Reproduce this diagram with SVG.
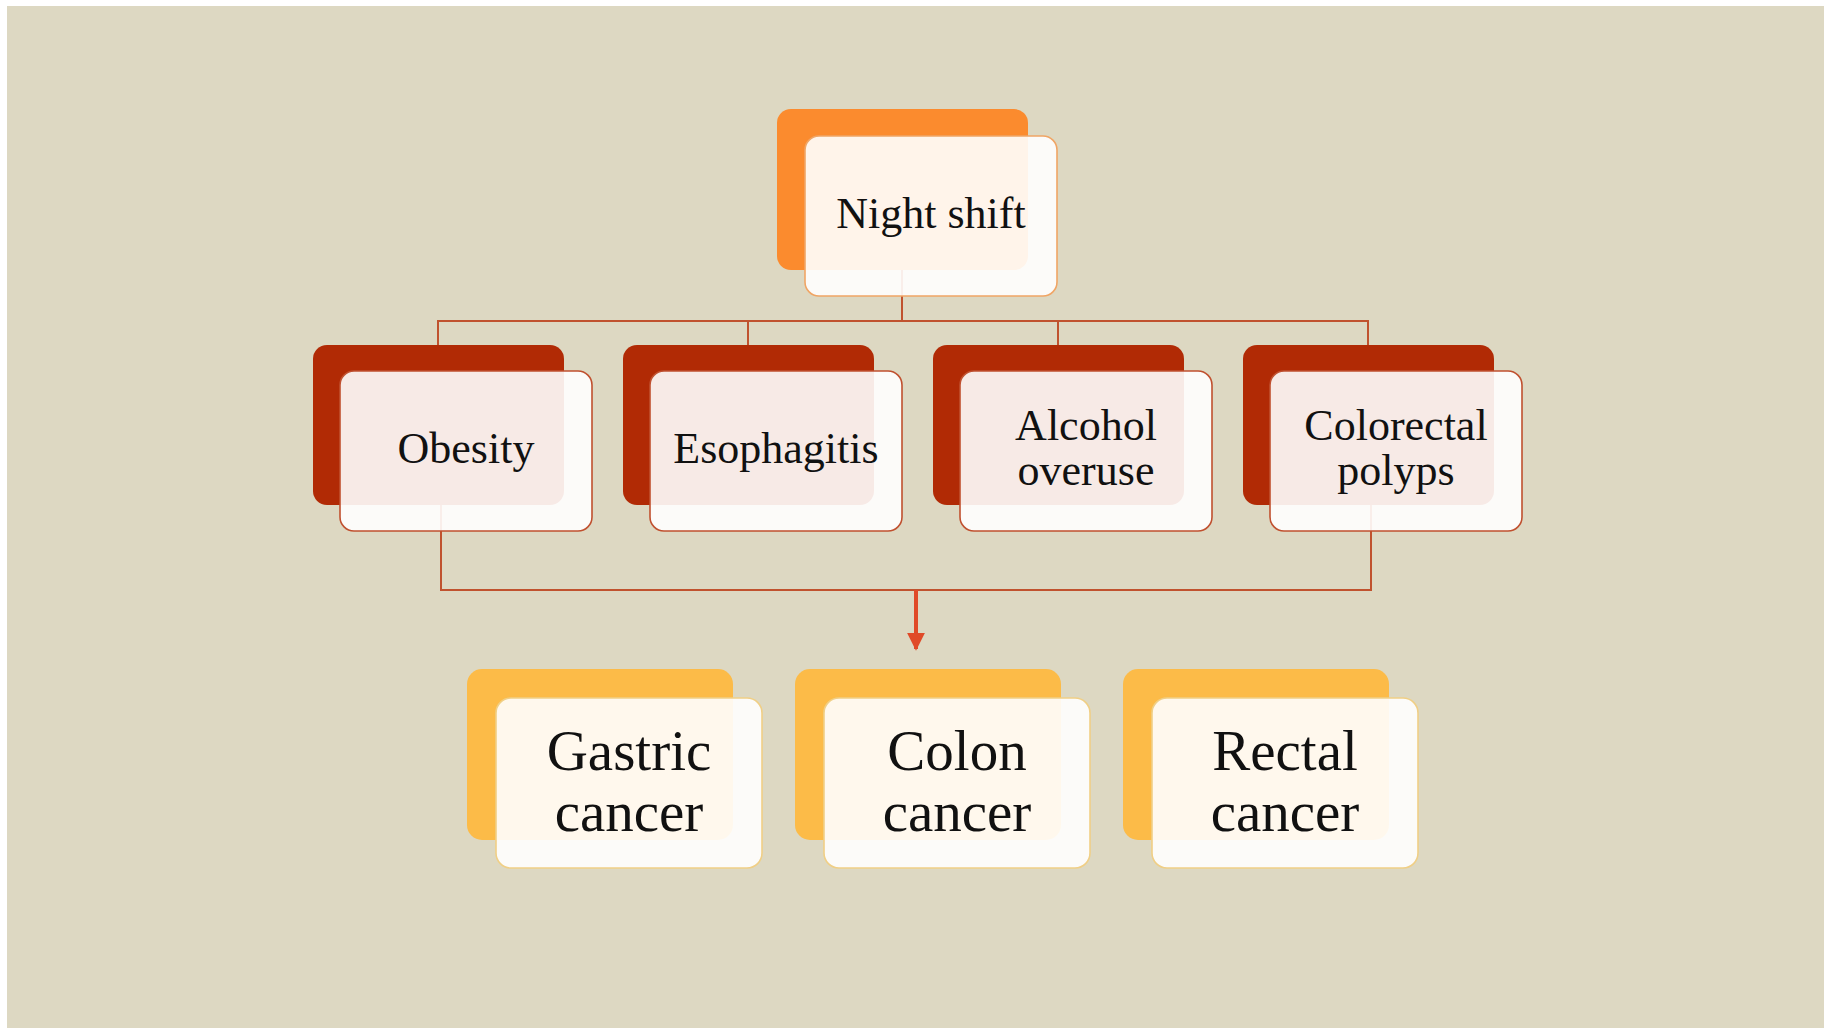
<svg xmlns="http://www.w3.org/2000/svg" width="1831" height="1036" viewBox="0 0 1831 1036">
<style>
.t{font-family:"Liberation Serif","Times New Roman",serif;fill:#111;text-anchor:middle}
.f{fill:#ffffff;fill-opacity:0.9;stroke-width:1.6}
.c{fill:none;stroke:#c0522e;stroke-width:2}
.b1{fill:#fb8b2e}.s1{stroke:#f0a565}
.b2{fill:#b12a05}.s2{stroke:#c0502f}
.b3{fill:#fcbb48}.s3{stroke:#f0cf86}
</style>
<defs>
<marker id="ah" viewBox="0 0 10 10" refX="9" refY="5" markerWidth="4.5" markerHeight="4.5" orient="auto" markerUnits="strokeWidth">
<path d="M0,0 L10,5 L0,10 z" fill="#e04a28"/>
</marker>
</defs>
<rect width="1831" height="1036" fill="#ffffff"/>
<rect x="7" y="6" width="1817" height="1022" fill="#ddd8c2"/>
<g id="connectors">
<path class="c" d="M902,270 V321 M438,345 V321 H1368 V345 M748,321 V345 M1058,321 V345"/>
<path class="c" d="M441,505 V590 H1371 V505"/>
<line x1="916" y1="590" x2="916" y2="649" stroke="#e04a28" stroke-width="4" marker-end="url(#ah)"/>
</g>
<g id="n-night">
<rect class="b1" x="777" y="109" width="251" height="161" rx="14"/>
<rect class="f s1" x="805" y="136" width="252" height="160" rx="14"/>
<text class="t" x="931" y="228" font-size="44">Night shift</text>
</g>
<g id="n-obesity">
<rect class="b2" x="313" y="345" width="251" height="160" rx="14"/>
<rect class="f s2" x="340" y="371" width="252" height="160" rx="14"/>
<text class="t" x="466" y="463" font-size="44">Obesity</text>
</g>
<g id="n-esophagitis">
<rect class="b2" x="623" y="345" width="251" height="160" rx="14"/>
<rect class="f s2" x="650" y="371" width="252" height="160" rx="14"/>
<text class="t" x="776" y="463" font-size="44">Esophagitis</text>
</g>
<g id="n-alcohol">
<rect class="b2" x="933" y="345" width="251" height="160" rx="14"/>
<rect class="f s2" x="960" y="371" width="252" height="160" rx="14"/>
<text class="t" x="1086" y="440" font-size="44">Alcohol</text>
<text class="t" x="1086" y="485" font-size="44">overuse</text>
</g>
<g id="n-polyps">
<rect class="b2" x="1243" y="345" width="251" height="160" rx="14"/>
<rect class="f s2" x="1270" y="371" width="252" height="160" rx="14"/>
<text class="t" x="1396" y="440" font-size="44">Colorectal</text>
<text class="t" x="1396" y="485" font-size="44">polyps</text>
</g>
<g id="n-gastric">
<rect class="b3" x="467" y="669" width="266" height="171" rx="15"/>
<rect class="f s3" x="496" y="698" width="266" height="170" rx="15"/>
<text class="t" x="629" y="770" font-size="57">Gastric</text>
<text class="t" x="629" y="831" font-size="57">cancer</text>
</g>
<g id="n-colon">
<rect class="b3" x="795" y="669" width="266" height="171" rx="15"/>
<rect class="f s3" x="824" y="698" width="266" height="170" rx="15"/>
<text class="t" x="957" y="770" font-size="57">Colon</text>
<text class="t" x="957" y="831" font-size="57">cancer</text>
</g>
<g id="n-rectal">
<rect class="b3" x="1123" y="669" width="266" height="171" rx="15"/>
<rect class="f s3" x="1152" y="698" width="266" height="170" rx="15"/>
<text class="t" x="1285" y="770" font-size="57">Rectal</text>
<text class="t" x="1285" y="831" font-size="57">cancer</text>
</g>
</svg>
